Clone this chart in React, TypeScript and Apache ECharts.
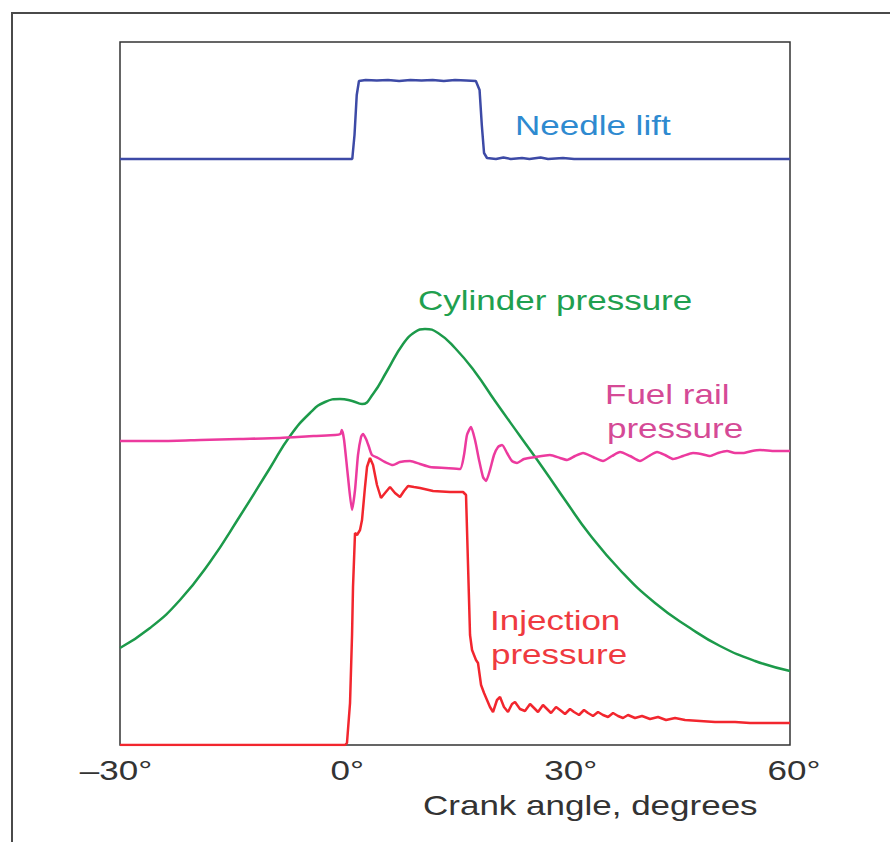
import React, { useEffect, useRef } from "react";
import * as echarts from "echarts";

// Crank angle (degrees) vs relative signal height (arbitrary units, 0..703)
const tickValues = [-30, 0, 30, 60];
const tickLabels = ["\u201330\u00b0", "0\u00b0", "30\u00b0", "60\u00b0"];

const needleLift: [number, number][] = [
  [-30, 586], [1.2, 586], [1.5, 610], [1.8, 650], [2.1, 664], [3, 665], [4.5, 664.5], [6, 665],
  [7.5, 664], [9, 665], [10.5, 664.5], [12, 665], [13.5, 664], [15, 665], [16.5, 664.5], [17.8, 664],
  [18.3, 655], [18.6, 620], [18.9, 592], [19.3, 587], [20.5, 586], [21.5, 587.5], [22.5, 586],
  [24, 587], [25, 586], [26.5, 587.5], [27.5, 586], [29.5, 587], [31, 586], [60, 586],
];

const cylinderPressure: [number, number][] = [
  [-30, 97], [-25.97, 117], [-21.94, 145], [-17.91, 183], [-13.88, 229], [-9.85, 277],
  [-7.16, 309], [-4.48, 332], [-2.46, 343], [-0.45, 346], [1.19, 344], [2.51, 341],
  [3.99, 351], [5.87, 374], [8.02, 401], [9.63, 413], [10.97, 416], [12.72, 412], [15.0, 397],
  [17.69, 373], [20.38, 344], [23.73, 309], [27.09, 274], [29.78, 245], [33.14, 210],
  [37.17, 175], [41.87, 142], [46.57, 117], [50.6, 99], [55.3, 84], [60, 74],
];

const fuelRailPressure: [number, number][] = [
  [-30, 304], [-24, 304], [-19.2, 305], [-14, 306], [-8.5, 307], [-4, 309], [-1.1, 310],
  [-0.4, 311], [-0.2, 315], [0.1, 305], [0.6, 270], [1.17, 235], [1.57, 255], [1.97, 290],
  [2.38, 308], [2.64, 311], [3.05, 306], [3.45, 298], [3.85, 290], [4.66, 287], [5.6, 283],
  [6.67, 280], [7.6, 283], [8.96, 284], [10.3, 281], [11.64, 278], [13.66, 277], [15.67, 276],
  [16.21, 290], [16.61, 310], [17.15, 318], [17.69, 305], [18.23, 285], [18.76, 268],
  [19.17, 264], [19.7, 275], [20.24, 290], [20.78, 298], [21.32, 300], [21.99, 292],
  [22.66, 284], [23.33, 282], [24.27, 286], [25.75, 288], [27.76, 290], [29.11, 287],
  [30.05, 285], [31.12, 289], [32.2, 292], [33.54, 288], [34.88, 284], [36.09, 289],
  [37.17, 293], [38.51, 289], [39.85, 284], [41.06, 289], [42.14, 293], [43.21, 290],
  [44.29, 286], [45.63, 289], [46.97, 292], [48.05, 291], [49.26, 289], [50.33, 292],
  [51.54, 294], [52.62, 292], [53.69, 292], [54.9, 294], [55.97, 295], [57.99, 294], [60, 294],
];

const injectionPressure: [number, number][] = [
  [-30, 0], [0.23, 0], [0.49, 2], [0.9, 42], [1.17, 110], [1.3, 158], [1.57, 212], [1.84, 210],
  [2.24, 215], [2.51, 225], [2.91, 258], [3.18, 278], [3.58, 287], [3.99, 280], [4.52, 260],
  [5.06, 247], [5.6, 252], [6.27, 258], [6.94, 252], [7.61, 248], [8.15, 254], [8.69, 259],
  [9.49, 258], [10.3, 257], [12.05, 254], [14.33, 253], [16.08, 253], [16.48, 250],
  [16.75, 180], [17.02, 110], [17.29, 95], [17.82, 85], [18.09, 82], [18.5, 60], [18.9, 52],
  [19.3, 45], [19.7, 38], [20.11, 33], [20.64, 45], [21.05, 48], [21.58, 38], [22.12, 33],
  [22.66, 41], [23.06, 43], [23.73, 36], [24.4, 34], [25.08, 41], [25.62, 37], [26.15, 33],
  [26.82, 40], [27.36, 36], [27.9, 32], [28.57, 38], [29.11, 35], [29.78, 31], [30.45, 36],
  [30.99, 33], [31.66, 30], [32.33, 35], [32.87, 32], [33.54, 29], [34.21, 33], [34.88, 30],
  [35.56, 28], [36.23, 32], [36.9, 29], [37.57, 27], [38.24, 30], [39.18, 27], [40.12, 29],
  [41.2, 26], [42.27, 28], [43.35, 25], [44.56, 27], [45.9, 25], [47.92, 24], [49.93, 23],
  [52.62, 23], [54.63, 22], [57.32, 22], [60, 22],
];

const FONT = '"Liberation Sans", Arial, Helvetica, sans-serif';
const SX = 1.25;

function label(text: string, x: number, y: number, fill: string, align = "left") {
  return {
    type: "text",
    x,
    y,
    scaleX: SX,
    silent: true,
    style: {
      text,
      x: 0,
      y: 0,
      fill,
      fontSize: 28,
      fontFamily: FONT,
      align,
      verticalAlign: "middle",
    },
  };
}

export default function App() {
  const ref = useRef<HTMLDivElement>(null);
  useEffect(() => {
    if (!ref.current) return;
    const chart = echarts.init(ref.current, undefined, { renderer: "svg" });
    const baseOption: any = {
      animation: false,
      backgroundColor: "#ffffff",
      grid: {
        left: 120,
        top: 42,
        right: 100,
        bottom: 97,
        show: true,
        borderColor: "#333333",
        borderWidth: 1.5,
        backgroundColor: "transparent",
      },
      xAxis: {
        type: "value",
        min: -30,
        max: 60,
        interval: 30,
        axisLine: { show: false },
        axisTick: { show: false },
        axisLabel: { show: false },
        splitLine: { show: false },
      },
      yAxis: {
        type: "value",
        min: 0,
        max: 703,
        show: false,
        splitLine: { show: false },
      },
      series: [
        {
          name: "Needle lift",
          type: "line",
          data: needleLift,
          showSymbol: false,
          lineStyle: { color: "#3d4aa6", width: 2.5 },
          z: 3,
        },
        {
          name: "Cylinder pressure",
          type: "line",
          data: cylinderPressure,
          smooth: 0.5,
          showSymbol: false,
          lineStyle: { color: "#1c9a4a", width: 2.5 },
          z: 3,
        },
        {
          name: "Fuel rail pressure",
          type: "line",
          data: fuelRailPressure,
          smooth: 0.2,
          showSymbol: false,
          lineStyle: { color: "#ec3a9e", width: 2.5 },
          z: 4,
        },
        {
          name: "Injection pressure",
          type: "line",
          data: injectionPressure,
          showSymbol: false,
          lineStyle: { color: "#f2262e", width: 2.5 },
          z: 5,
        },
      ],
    };
    chart.setOption(baseOption);

    const tickTexts = tickValues.map((v, i) => {
      const px = chart.convertToPixel({ xAxisIndex: 0 }, v) as number;
      const dx = i === 0 ? -4 : 4;
      return label(tickLabels[i], px + dx, 770, "#333333", "center");
    });

    chart.setOption({
      graphic: [
        {
          type: "rect",
          silent: true,
          shape: { x: 12, y: 13, width: 1000, height: 1000 },
          style: { fill: "none", stroke: "#4a4a4a", lineWidth: 2 },
        },
        ...tickTexts,
        label("Crank angle, degrees", 423, 805, "#333333"),
        label("Needle lift", 515, 125, "#2e8ad0"),
        label("Cylinder pressure", 418, 300, "#1fa04f"),
        label("Fuel rail", 605, 394, "#d54a96"),
        label("pressure", 607, 428, "#d54a96"),
        label("Injection", 490, 620, "#ef3a40"),
        label("pressure", 491, 654, "#ef3a40"),
      ],
    });

    return () => chart.dispose();
  }, []);
  return (
    <div
      ref={ref}
      style={{ position: "absolute", left: 0, top: 0, width: 890, height: 842 }}
    />
  );
}
